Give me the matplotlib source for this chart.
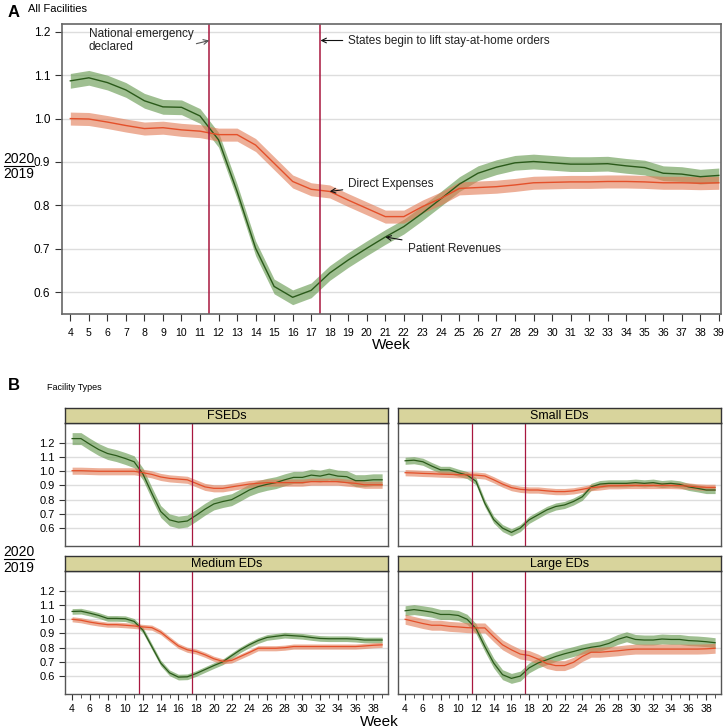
import numpy as np
import matplotlib
matplotlib.use("Agg")
import matplotlib.pyplot as plt
from matplotlib.lines import Line2D
from matplotlib.ticker import MultipleLocator

plt.rcParams['font.family'] = ['Liberation Sans', 'DejaVu Sans']

weeks = list(range(4, 40))

# panel A - all facilities
rev_all = [1.087, 1.094, 1.083, 1.066, 1.041, 1.027, 1.026, 1.006, 0.951, 0.832,
           0.701, 0.613, 0.588, 0.604, 0.644, 0.674, 0.701, 0.727, 0.751, 0.782,
           0.815, 0.849, 0.874, 0.888, 0.898, 0.901, 0.898, 0.895, 0.895, 0.896,
           0.891, 0.887, 0.874, 0.872, 0.866, 0.869]
exp_all = [1.000, 0.999, 0.992, 0.984, 0.977, 0.979, 0.974, 0.971, 0.963, 0.963,
           0.939, 0.897, 0.855, 0.837, 0.832, 0.812, 0.793, 0.774, 0.774, 0.797,
           0.816, 0.839, 0.841, 0.843, 0.847, 0.852, 0.853, 0.854, 0.854, 0.855,
           0.855, 0.854, 0.852, 0.852, 0.851, 0.852]
rev_all_ci = 0.017
exp_all_ci = 0.015

# panel B - facility types
facet_names = ["FSEDs", "Small EDs", "Medium EDs", "Large EDs"]
rev_types = [
    [1.23, 1.23, 1.19, 1.153, 1.125, 1.11, 1.09, 1.067, 0.98, 0.845,
     0.717, 0.658, 0.642, 0.65, 0.69, 0.733, 0.77, 0.787, 0.80, 0.833,
     0.868, 0.892, 0.908, 0.92, 0.94, 0.957, 0.957, 0.973, 0.966, 0.98,
     0.966, 0.962, 0.934, 0.934, 0.94, 0.94],
    [1.074, 1.078, 1.067, 1.037, 1.01, 1.01, 0.99, 0.973, 0.93, 0.775,
     0.66, 0.60, 0.57, 0.60, 0.658, 0.693, 0.728, 0.752, 0.763, 0.787,
     0.82, 0.89, 0.91, 0.915, 0.915, 0.915, 0.92, 0.915, 0.92, 0.91,
     0.915, 0.908, 0.89, 0.88, 0.868, 0.868],
    [1.055, 1.057, 1.043, 1.027, 1.006, 1.006, 1.004, 0.985, 0.923, 0.808,
     0.692, 0.623, 0.593, 0.595, 0.618, 0.646, 0.674, 0.70, 0.743, 0.785,
     0.82, 0.85, 0.872, 0.88, 0.888, 0.884, 0.88, 0.872, 0.865, 0.863,
     0.863, 0.863, 0.86, 0.854, 0.854, 0.854],
    [1.06, 1.068, 1.06, 1.05, 1.034, 1.034, 1.027, 1.0, 0.935, 0.808,
     0.692, 0.61, 0.584, 0.60, 0.658, 0.692, 0.715, 0.738, 0.757, 0.773,
     0.79, 0.803, 0.812, 0.83, 0.858, 0.877, 0.858, 0.854, 0.854, 0.861,
     0.858, 0.858, 0.85, 0.847, 0.842, 0.835],
]
exp_types = [
    [1.004, 1.004, 1.002, 1.0, 1.0, 1.0, 1.0, 1.0, 0.99, 0.978,
     0.96, 0.95, 0.945, 0.94, 0.915, 0.89, 0.88, 0.88, 0.89, 0.90,
     0.91, 0.915, 0.92, 0.92, 0.92, 0.92, 0.92, 0.927, 0.927, 0.927,
     0.927, 0.92, 0.915, 0.905, 0.905, 0.905],
    [0.99, 0.988, 0.985, 0.983, 0.98, 0.978, 0.976, 0.975, 0.973, 0.967,
     0.94, 0.91, 0.885, 0.873, 0.868, 0.868, 0.862, 0.857, 0.857, 0.862,
     0.873, 0.885, 0.89, 0.898, 0.898, 0.90, 0.90, 0.90, 0.90, 0.90,
     0.90, 0.898, 0.896, 0.89, 0.887, 0.887],
    [1.0, 0.993, 0.98, 0.97, 0.962, 0.962, 0.958, 0.953, 0.946, 0.941,
     0.91, 0.86, 0.812, 0.785, 0.773, 0.75, 0.722, 0.704, 0.71, 0.738,
     0.766, 0.796, 0.796, 0.796, 0.80, 0.808, 0.808, 0.808, 0.808, 0.808,
     0.808, 0.808, 0.808, 0.812, 0.817, 0.82],
    [1.0, 0.985, 0.97, 0.958, 0.958, 0.95, 0.946, 0.941, 0.939, 0.939,
     0.877, 0.82, 0.785, 0.755, 0.745, 0.72, 0.688, 0.674, 0.674, 0.697,
     0.738, 0.768, 0.768, 0.773, 0.778, 0.785, 0.79, 0.79, 0.79, 0.79,
     0.79, 0.79, 0.79, 0.79, 0.792, 0.796],
]
rev_types_ci = [0.042, 0.025, 0.02, 0.035]
exp_types_ci = [0.025, 0.022, 0.018, 0.035]

events = [11.5, 17.5]

green_band = '#5f9548'
green_line = '#2a5a1a'
orange_band = '#e27a54'
orange_line = '#e4502a'
event_col = '#a8173f'
grid_col = '#dddddd'
strip_col = '#d8d49c'


def draw_series(ax, y, ci, band, line, lw=1.0):
    y = np.array(y)
    ax.fill_between(weeks, y - ci, y + ci, color=band, alpha=0.6, lw=0)
    ax.plot(weeks, y, color=line, lw=lw)


fig = plt.figure(figsize=(7.25, 7.28), dpi=100)

# ---------- panel A ----------
axA = fig.add_axes([0.0855, 0.569, 0.9085, 0.398])
for v in np.arange(0.6, 1.25, 0.1):
    axA.axhline(v, color=grid_col, lw=1, zorder=0)
draw_series(axA, rev_all, rev_all_ci, green_band, green_line)
draw_series(axA, exp_all, exp_all_ci, orange_band, orange_line)
for e in events:
    axA.axvline(e, color=event_col, lw=1.1)
axA.set_xlim(3.55, 39.1)
axA.set_ylim(0.55, 1.218)
axA.set_xticks(weeks)
axA.set_yticks([0.6, 0.7, 0.8, 0.9, 1.0, 1.1, 1.2])
axA.set_yticklabels(['0.6', '0.7', '0.8', '0.9', '1.0', '1.1', '1.2'])
axA.tick_params(labelsize=8.5, color='#333333', length=5)
axA.tick_params(axis='x', pad=5, labelsize=7.6)
for s in axA.spines.values():
    s.set_color('#666666')
    s.set_linewidth(1.2)
axA.set_xlabel('Week', fontsize=11, labelpad=0)

axA.annotate('National emergency\ndeclared', xy=(11.5, 1.18), xytext=(5.0, 1.18),
             fontsize=8.5, va='center', ha='left', color='#222222',
             arrowprops=dict(arrowstyle='->', color='#555555', lw=0.8,
                             shrinkA=0, shrinkB=0, relpos=(1.0, 0.35)))
axA.annotate('States begin to lift stay-at-home orders', xy=(17.5, 1.18),
             xytext=(19.0, 1.18), fontsize=8.5, va='center', ha='left', color='#222222',
             arrowprops=dict(arrowstyle='->', color='#111111', lw=0.8,
                             shrinkA=2, shrinkB=0))
axA.annotate('Direct Expenses', xy=(18.0, 0.832), xytext=(19.0, 0.85),
             fontsize=8.5, va='center', ha='left', color='#222222',
             arrowprops=dict(arrowstyle='->', color='#111111', lw=0.8,
                             shrinkA=2, shrinkB=0))
axA.annotate('Patient Revenues', xy=(21.0, 0.727), xytext=(22.2, 0.70),
             fontsize=8.5, va='center', ha='left', color='#222222',
             arrowprops=dict(arrowstyle='->', color='#111111', lw=0.8,
                             shrinkA=2, shrinkB=0))

fig.text(0.011, 0.983, 'A', fontsize=12, fontweight='bold', va='center')
fig.text(0.039, 0.988, 'All Facilities', fontsize=8, va='center')


def ratio_label(y):
    fig.text(0.005, y, '2020', fontsize=10, va='bottom', ha='left')
    fig.text(0.005, y - 0.002, '2019', fontsize=10, va='top', ha='left')
    fig.add_artist(Line2D([0.006, 0.047], [y, y], color='black', lw=0.8,
                          transform=fig.transFigure))


ratio_label(0.772)

# ---------- panel B ----------
fig.text(0.011, 0.471, 'B', fontsize=12, fontweight='bold', va='center')
fig.text(0.065, 0.468, 'Facility Types', fontsize=6.5, va='center')
ratio_label(0.232)

lefts = [0.0897, 0.549, 0.0897, 0.549]
bottoms = [0.25, 0.25, 0.0467, 0.0467]
width = 0.4453
height = 0.169
strip_h = 0.021

for i, name in enumerate(facet_names):
    ax = fig.add_axes([lefts[i], bottoms[i], width, height])
    for v in np.arange(0.6, 1.25, 0.1):
        ax.axhline(v, color=grid_col, lw=1, zorder=0)
    draw_series(ax, rev_types[i], rev_types_ci[i], green_band, green_line, lw=0.9)
    draw_series(ax, exp_types[i], exp_types_ci[i], orange_band, orange_line, lw=0.9)
    for e in events:
        ax.axvline(e, color=event_col, lw=0.9)
    ax.set_xlim(3.2, 39.65)
    ax.set_ylim(0.474, 1.34)
    ax.set_yticks([0.6, 0.7, 0.8, 0.9, 1.0, 1.1, 1.2])
    ax.xaxis.set_minor_locator(MultipleLocator(1))
    ax.set_xticks(list(range(4, 39, 2)))
    for s in ax.spines.values():
        s.set_color('#555555')
        s.set_linewidth(1.0)
    ax.tick_params(labelsize=8, length=4, color='#333333')
    ax.tick_params(axis='x', labelsize=7.6)
    ax.tick_params(which='minor', length=3, color='#333333')
    if i % 2 == 0:
        ax.set_yticklabels(['0.6', '0.7', '0.8', '0.9', '1.0', '1.1', '1.2'])
    else:
        ax.tick_params(axis='y', left=False, labelleft=False)
    if i < 2:
        ax.tick_params(axis='x', which='both', bottom=False, labelbottom=False)

    sax = fig.add_axes([lefts[i], bottoms[i] + height, width, strip_h])
    sax.set_facecolor(strip_col)
    sax.set_xticks([])
    sax.set_yticks([])
    for s in sax.spines.values():
        s.set_color('#333333')
        s.set_linewidth(1.0)
    sax.text(0.5, 0.45, name, ha='center', va='center', fontsize=9,
             transform=sax.transAxes)

fig.text(0.523, 0.008, 'Week', fontsize=11, ha='center', va='center')

fig.savefig('out.png', dpi=100)
